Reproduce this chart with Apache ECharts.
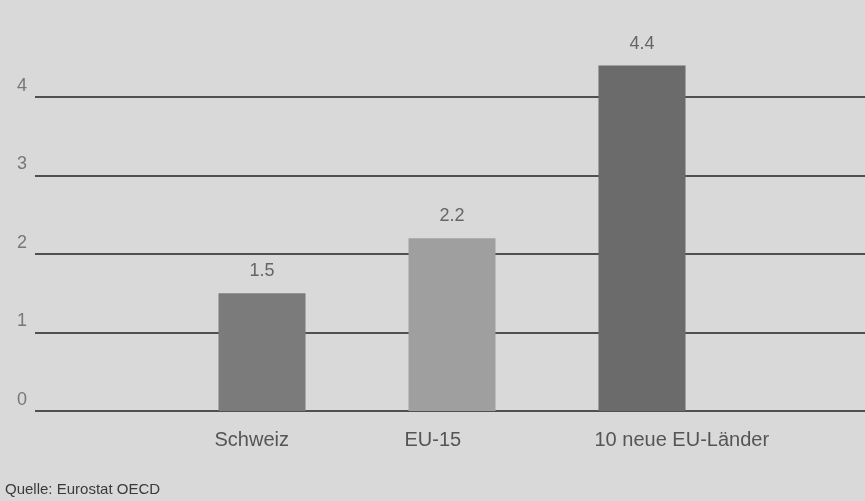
<!DOCTYPE html>
<html>
<head>
<meta charset="utf-8">
<script src="https://cdn.jsdelivr.net/npm/echarts@6/dist/echarts.min.js"></script>
<style>
  html, body { margin: 0; padding: 0; background: #d9d9d9; }
  #chart { width: 865px; height: 501px; }
</style>
</head>
<body>
<div id="chart"></div>
<script>
// Bar chart data
const categories = ['Schweiz', 'EU-15', '10 neue EU-Länder'];
const values = [1.5, 2.2, 4.4];
const barColors = ['#7b7b7b', '#9f9f9f', '#6b6b6b'];
const yTicks = [0, 1, 2, 3, 4];
const sourceNote = 'Quelle: Eurostat OECD';

const chart = echarts.init(document.getElementById('chart'), null, { renderer: 'canvas' });

const font = 'Liberation Sans, Arial, sans-serif';
const barWidth = 87;
const barsLeft = 167, barsRight = 128;

chart.setOption({
  backgroundColor: '#d9d9d9',
  animation: false,
  grid: [
    // full-width grid carrying the horizontal rules and the value labels
    { left: 35, right: 0, top: 97, bottom: 90 },
    // narrower grid holding the three bars
    { left: barsLeft, right: barsRight, top: 97, bottom: 90 },
    // same bands shifted by half a bar, so category names start at each bar's left edge
    { left: barsLeft - barWidth / 2 - 4, right: barsRight + barWidth / 2 + 4, top: 97, bottom: 90 }
  ],
  xAxis: [
    { type: 'category', gridIndex: 0, data: [''], show: false },
    { type: 'category', gridIndex: 1, data: categories, show: false },
    {
      type: 'category', gridIndex: 2, data: categories,
      axisLine: { show: false }, axisTick: { show: false },
      axisLabel: {
        color: '#555', fontSize: 20, fontFamily: font, margin: 19, align: 'left',
        interval: 0, hideOverlap: false
      }
    }
  ],
  yAxis: [
    {
      type: 'value', gridIndex: 0, min: yTicks[0], max: yTicks[yTicks.length - 1], interval: 1,
      axisLine: { show: false }, axisTick: { show: false },
      splitLine: { lineStyle: { color: '#505050', width: 2 } },
      axisLabel: {
        color: '#777', fontSize: 18, fontFamily: font, margin: 8,
        verticalAlign: 'bottom', padding: [0, 0, 2, 0]
      }
    },
    {
      type: 'value', gridIndex: 1, min: yTicks[0], max: yTicks[yTicks.length - 1], interval: 1,
      show: false, splitLine: { show: false }
    },
    {
      type: 'value', gridIndex: 2, min: yTicks[0], max: yTicks[yTicks.length - 1], interval: 1,
      show: false, splitLine: { show: false }
    }
  ],
  series: [
    {
      type: 'bar', xAxisIndex: 1, yAxisIndex: 1,
      clip: false, barWidth: barWidth, z: 3,
      data: values.map((v, i) => ({ value: v, itemStyle: { color: barColors[i] } })),
      label: {
        show: true, position: 'top', distance: 13,
        color: '#666', fontSize: 18, fontFamily: font,
        formatter: p => p.value.toFixed(1)
      }
    }
  ],
  graphic: [
    {
      type: 'text', left: 5, top: 482,
      style: { text: sourceNote, fill: '#3a3a3a', font: '15px ' + font }
    }
  ]
});
</script>
</body>
</html>
